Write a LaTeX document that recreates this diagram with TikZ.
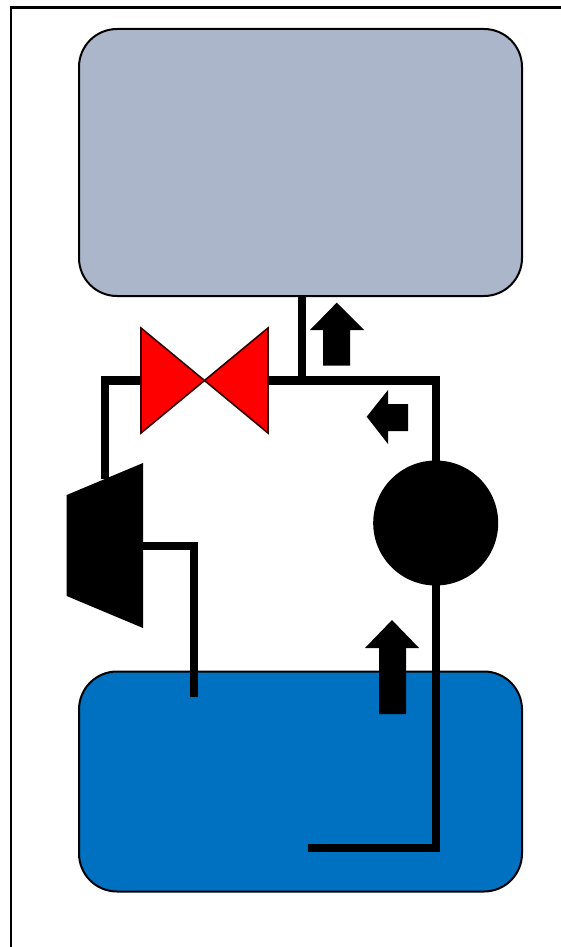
\documentclass[tikz,border=0pt]{standalone}
\usetikzlibrary{positioning}
\definecolor{uppertank}{RGB}{171,182,202}
\definecolor{lowertank}{RGB}{0,112,192}
\tikzset{
  tankbox/.style={draw=black,line width=2pt,rounded corners=38pt,inner sep=0pt},
  pipe/.style={line width=8.4pt,draw=black},
  flowarrow/.style={fill=black},
  valvepart/.style={fill=red,draw=black!80!red,line width=1.6pt,line join=miter}
}
\begin{document}
\begin{tikzpicture}[x=1pt,y=-1pt]
\useasboundingbox (0,0) rectangle (561,947);
% frame
\draw[line width=2.6pt] (11,947) -- (11,7.5) -- (561,7.5);
% tanks
\node[tankbox,fill=uppertank,minimum width=443pt,minimum height=267pt] (upper) at (300.5,162.5) {};
\node[tankbox,fill=lowertank,minimum width=443pt,minimum height=220pt] (lower) at (300.5,781.5) {};
% pump and turbine
\node[circle,fill=black,minimum size=125pt,inner sep=0pt] (pump) at (435.7,523) {};
\coordinate (turbtop) at (105,479);
\coordinate (turbout) at (143,546);
\coordinate (valveleft) at (141,380.5);
\coordinate (valvemid) at (204.5,380.5);
\coordinate (valveright) at (268,380.5);
\coordinate (tee) at (301.7,380.5);
\coordinate (corner) at (436,380.5);
\coordinate (lowerend) at (194,697);
\coordinate (lowerin) at (308,848);
% pipes
\draw[pipe] (upper.south -| tee) -- (tee);
\draw[pipe] (valveright) -- (corner) -- (pump.center -| corner);
\draw[pipe] (valveleft) -- (105,380.5) -- (turbtop);
\draw[pipe] (turbout) -- (194,546) -- (lowerend);
\draw[pipe] (pump.center -| corner) -- (436,848) -- (lowerin);
\fill (66.7,495) -- (143,463) -- (143,628) -- (66.7,596) -- cycle;
% valve
\draw[valvepart] (valvemid) -- (141,328) -- (141,433) -- cycle;
\draw[valvepart] (valvemid) -- (268,328) -- (268,433) -- cycle;
% flow arrows
\fill[flowarrow] (336.7,302.7) -- (364,330) -- (350,330) -- (350,365.7) -- (323,365.7) -- (323,330) -- (310,330) -- cycle;
\fill[flowarrow] (366.7,416.7) -- (388,390) -- (388,404) -- (408,404) -- (408,431) -- (388,431) -- (388,444) -- cycle;
\fill[flowarrow] (392,620) -- (419,648) -- (406,648) -- (406,714) -- (379,714) -- (379,648) -- (365,648) -- cycle;
\end{tikzpicture}
\end{document}
